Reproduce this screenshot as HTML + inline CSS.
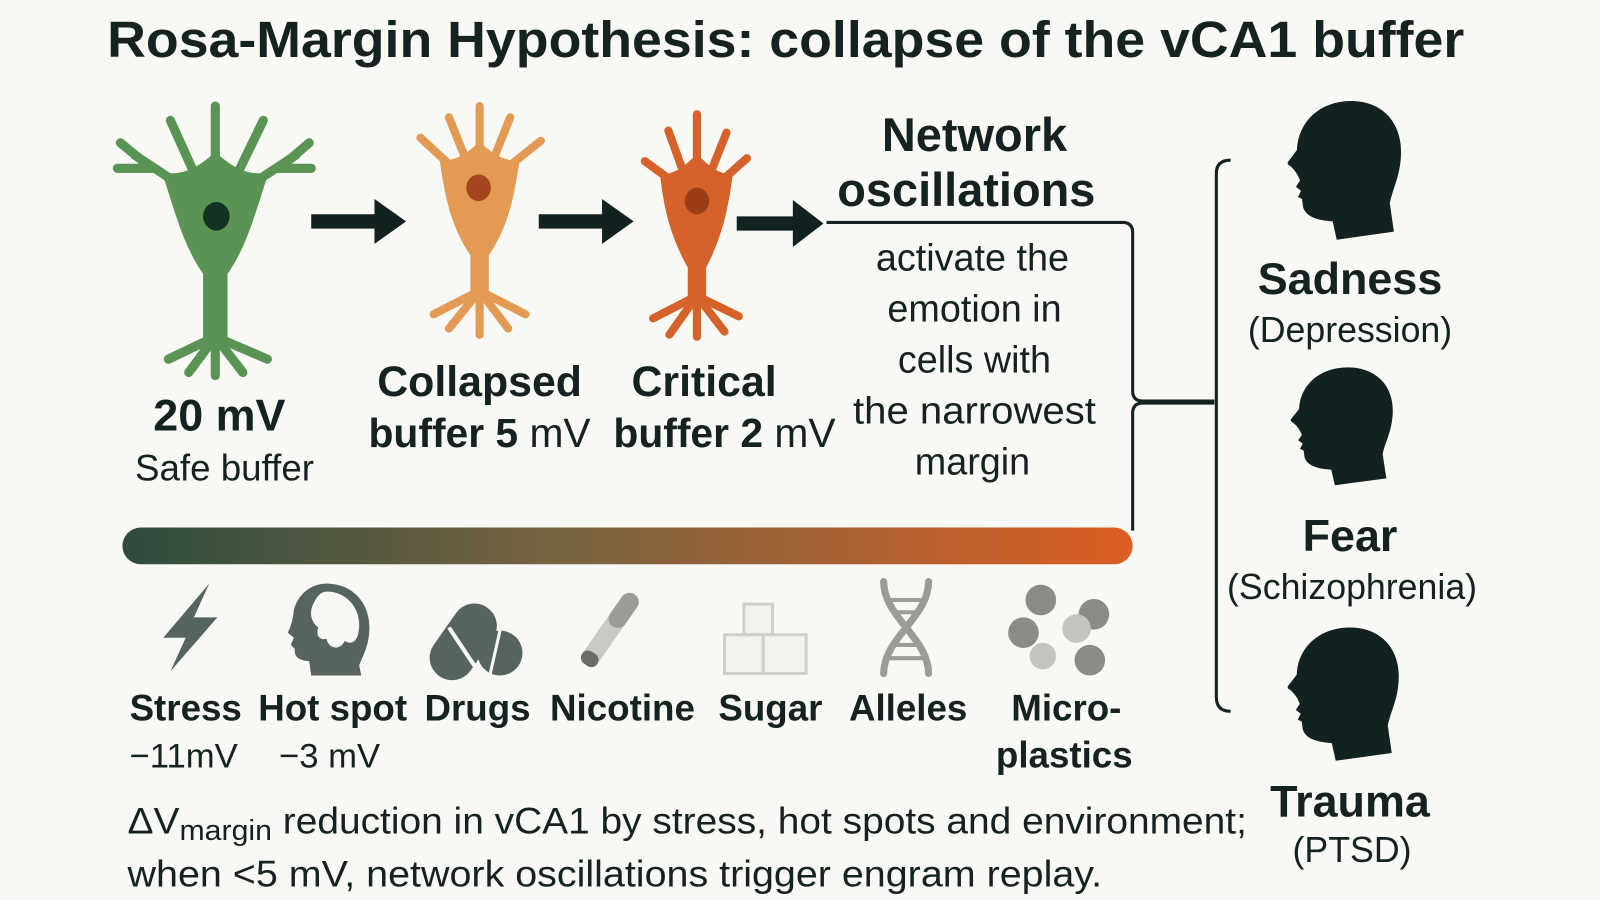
<!DOCTYPE html>
<html><head><meta charset="utf-8"><style>
html,body{margin:0;padding:0;background:#f8f8f4;}
svg{display:block}
text{font-family:"Liberation Sans",sans-serif;fill:#142220}
.b{font-weight:bold}
</style></head><body>
<svg width="1600" height="900" viewBox="0 0 1568 882" xmlns="http://www.w3.org/2000/svg">
<defs>
<linearGradient id="g" x1="0" x2="1"><stop offset="0" stop-color="#2e4c3e"/><stop offset="0.45" stop-color="#7a6440"/><stop offset="1" stop-color="#dc5e24"/></linearGradient>
<path id="head" d="M62,0 C92,0 111,20 111,50 C111,72 103,85 100,100 L104,128 L48,136 L44,118 C30,117 18,114 15,104 L14,96 L10,94 L13,88 L8,84 L12,78 C10,72 6,66 0,62 L0,60 L9,48 C10,20 32,0 62,0 Z" fill="#112220"/>
</defs>
<rect width="1568" height="882" fill="#f8f8f4"/>
<text x="770" y="56" text-anchor="middle" class="b" font-size="50" textLength="1330" lengthAdjust="spacingAndGlyphs">Rosa-Margin Hypothesis: collapse of the vCA1 buffer</text>

<!-- green neuron -->
<g stroke="#5a9455" fill="#5a9455" stroke-linecap="round" stroke-width="9">
<path d="M160,170 Q185,175 211,150 Q237,175 262,170 C250,205 242,240 222,268 L222,335 L200,335 L200,268 C180,240 172,205 160,170 Z" stroke-width="2"/>
<line x1="211" y1="200" x2="211" y2="104"/>
<line x1="195" y1="180" x2="167" y2="118"/><line x1="228" y1="180" x2="258" y2="118"/>
<line x1="182" y1="185" x2="132" y2="152"/><line x1="240" y1="185" x2="290" y2="152"/>
<line x1="150" y1="165" x2="115" y2="165"/><line x1="272" y1="165" x2="305" y2="165"/>
<line x1="140" y1="158" x2="118" y2="140"/><line x1="282" y1="158" x2="303" y2="140"/>
<line x1="211" y1="330" x2="165" y2="352"/><line x1="211" y1="330" x2="185" y2="365"/>
<line x1="211" y1="330" x2="211" y2="368"/><line x1="211" y1="330" x2="238" y2="365"/>
<line x1="211" y1="330" x2="262" y2="352"/>
</g>
<ellipse cx="212" cy="212" rx="13" ry="14" fill="#123322"/>

<!-- orange neuron -->
<g stroke="#e39a55" fill="#e39a55" stroke-linecap="round" stroke-width="8">
<path d="M432,158 Q450,160 470,140 Q490,160 508,158 C502,200 495,225 478,250 L478,295 L462,295 L462,250 C445,225 438,200 432,158 Z" stroke-width="2"/>
<line x1="470" y1="170" x2="470" y2="104"/><line x1="460" y1="165" x2="440" y2="115"/><line x1="480" y1="165" x2="500" y2="115"/>
<line x1="450" y1="170" x2="412" y2="135"/><line x1="490" y1="170" x2="530" y2="138"/>
<line x1="470" y1="285" x2="425" y2="308"/><line x1="470" y1="285" x2="440" y2="322"/><line x1="470" y1="285" x2="470" y2="328"/><line x1="470" y1="285" x2="498" y2="322"/><line x1="470" y1="285" x2="515" y2="308"/>
</g>
<ellipse cx="469" cy="184" rx="12" ry="13" fill="#a4451c"/>

<!-- red neuron -->
<g stroke="#d4622a" fill="#d4622a" stroke-linecap="round" stroke-width="8">
<path d="M648,172 Q665,172 683,152 Q701,172 717,172 C712,210 705,235 691,262 L691,300 L675,300 L675,262 C660,235 652,210 648,172 Z" stroke-width="2"/>
<line x1="683" y1="180" x2="683" y2="112"/><line x1="672" y1="175" x2="655" y2="128"/><line x1="694" y1="175" x2="712" y2="130"/>
<line x1="662" y1="180" x2="632" y2="158"/><line x1="704" y1="180" x2="732" y2="155"/>
<line x1="683" y1="290" x2="640" y2="312"/><line x1="683" y1="290" x2="656" y2="328"/><line x1="683" y1="290" x2="683" y2="330"/><line x1="683" y1="290" x2="710" y2="325"/><line x1="683" y1="290" x2="724" y2="310"/>
</g>
<ellipse cx="683" cy="197" rx="12" ry="13" fill="#9c3e15"/>

<!-- arrows -->
<g fill="#112220">
<path d="M305,210 h62 v-15 l31,22 l-31,22 v-15 h-62z"/>
<path d="M528,210 h62 v-15 l31,22 l-31,22 v-15 h-62z"/>
<path d="M722,212 h55 v-16 l30,23 l-30,23 v-16 h-55z"/>
</g>

<text x="215" y="422" text-anchor="middle" class="b" font-size="44">20 mV</text>
<text x="220" y="471" text-anchor="middle" font-size="36">Safe buffer</text>
<text x="470" y="388" text-anchor="middle" class="b" font-size="42">Collapsed</text>
<text x="470" y="438" text-anchor="middle" class="b" font-size="40">buffer 5 <tspan font-weight="normal">mV</tspan></text>
<text x="690" y="388" text-anchor="middle" class="b" font-size="42">Critical</text>
<text x="710" y="438" text-anchor="middle" class="b" font-size="40">buffer 2 <tspan font-weight="normal">mV</tspan></text>

<text x="955" y="148" text-anchor="middle" class="b" font-size="46">Network</text>
<text x="947" y="202" text-anchor="middle" class="b" font-size="46">oscillations</text>
<g font-size="37" text-anchor="middle">
<text x="953" y="265">activate the</text>
<text x="955" y="315">emotion in</text>
<text x="955" y="365">cells with</text>
<text x="955" y="415" textLength="238" lengthAdjust="spacingAndGlyphs">the narrowest</text>
<text x="953" y="465">margin</text>
</g>

<g fill="none" stroke="#142220" stroke-width="3">
<path d="M810,218 H1100 Q1110,218 1110,228 V383 Q1110,393 1120,393 H1190"/>
<path d="M1190,395 H1120 Q1110,395 1110,405 V520"/>
<path d="M1206,157 Q1192,157 1192,170 V683 Q1192,697 1206,697"/>
</g>

<rect x="120" y="517" width="990" height="36" rx="18" fill="url(#g)"/>

<!-- icons -->
<path d="M205,572 L160,625 L182,625 L167,658 L213,605 L190,605 Z" fill="#566460"/>
<g fill="#566460">
<path d="M320,572 C345,572 362,590 362,615 C362,632 356,642 352,652 L354,662 L305,662 L303,648 C292,647 288,643 289,636 L285,632 L288,625 L282,620 C286,612 287,606 288,598 C292,582 305,572 320,572Z"/>
</g>
<path d="M318,580 C335,578 352,592 352,612 C352,628 345,633 338,628 C333,638 322,636 320,626 C313,628 309,622 312,615 C305,610 302,600 308,590 C311,584 314,581 318,580Z" fill="#f8f8f4"/>
<g fill="#566460">
<rect x="432" y="588" width="44" height="82" rx="22" transform="rotate(35 454 629)"/>
<circle cx="490" cy="640" r="22"/>
</g>
<line x1="440" y1="615" x2="470" y2="660" stroke="#f8f8f4" stroke-width="4"/>
<line x1="490" y1="618" x2="480" y2="662" stroke="#f8f8f4" stroke-width="3"/>
<g transform="rotate(35 598 617)">
<rect x="589" y="575" width="18" height="84" rx="9" fill="#c9cac6"/>
<rect x="589" y="575" width="18" height="38" rx="9" fill="#9a9c98"/>
<rect x="589" y="645" width="18" height="14" rx="7" fill="#6a6c68"/>
</g>
<g fill="#f2f2ee" stroke="#cfd0cc" stroke-width="3">
<rect x="729" y="592" width="28" height="32"/>
<rect x="710" y="622" width="38" height="38"/>
<rect x="748" y="622" width="42" height="38"/>
</g>
<g fill="none" stroke="#9a9c98" stroke-width="7" stroke-linecap="round">
<path d="M866,570 C866,605 910,625 910,660"/>
<path d="M910,570 C910,605 866,625 866,660"/>
</g>
<g stroke="#9a9c98" stroke-width="4"><line x1="872" y1="588" x2="904" y2="588"/><line x1="878" y1="600" x2="898" y2="600"/><line x1="874" y1="632" x2="902" y2="632"/><line x1="870" y1="645" x2="906" y2="645"/></g>
<g fill="#8a8c88">
<circle cx="1020" cy="588" r="15"/><circle cx="1072" cy="602" r="15"/><circle cx="1003" cy="620" r="15"/><circle cx="1068" cy="647" r="15"/>
</g>
<g fill="#c4c5c1"><circle cx="1055" cy="616" r="14"/><circle cx="1022" cy="643" r="13"/></g>

<g class="b" font-size="36" text-anchor="middle">
<text x="182" y="706" class="b">Stress</text>
<text x="326" y="706" class="b">Hot spot</text>
<text x="468" y="706" class="b">Drugs</text>
<text x="610" y="706" class="b">Nicotine</text>
<text x="755" y="706" class="b">Sugar</text>
<text x="890" y="706" class="b">Alleles</text>
<text x="1045" y="706" class="b">Micro-</text>
<text x="1043" y="752" class="b">plastics</text>
</g>
<text x="180" y="752" text-anchor="middle" font-size="34">−11mV</text>
<text x="323" y="752" text-anchor="middle" font-size="34">−3 mV</text>

<text x="125" y="817" font-size="36" textLength="1097" lengthAdjust="spacingAndGlyphs">ΔV<tspan font-size="28" dy="6">margin</tspan><tspan dy="-6"> reduction in vCA1 by stress, hot spots and environment;</tspan></text>
<text x="125" y="869" font-size="36" textLength="955" lengthAdjust="spacingAndGlyphs">when &lt;5 mV, network oscillations trigger engram replay.</text>

<use href="#head" transform="translate(1262,99)"/>
<use href="#head" transform="translate(1265,360) scale(0.9,0.85)"/>
<use href="#head" transform="translate(1262,615) scale(0.98,0.96)"/>

<text x="1323" y="288" text-anchor="middle" class="b" font-size="44">Sadness</text>
<text x="1323" y="335" text-anchor="middle" font-size="35">(Depression)</text>
<text x="1323" y="540" text-anchor="middle" class="b" font-size="44">Fear</text>
<text x="1325" y="587" text-anchor="middle" font-size="35">(Schizophrenia)</text>
<text x="1323" y="800" text-anchor="middle" class="b" font-size="44">Trauma</text>
<text x="1325" y="845" text-anchor="middle" font-size="35">(PTSD)</text>
</svg>
</body></html>
